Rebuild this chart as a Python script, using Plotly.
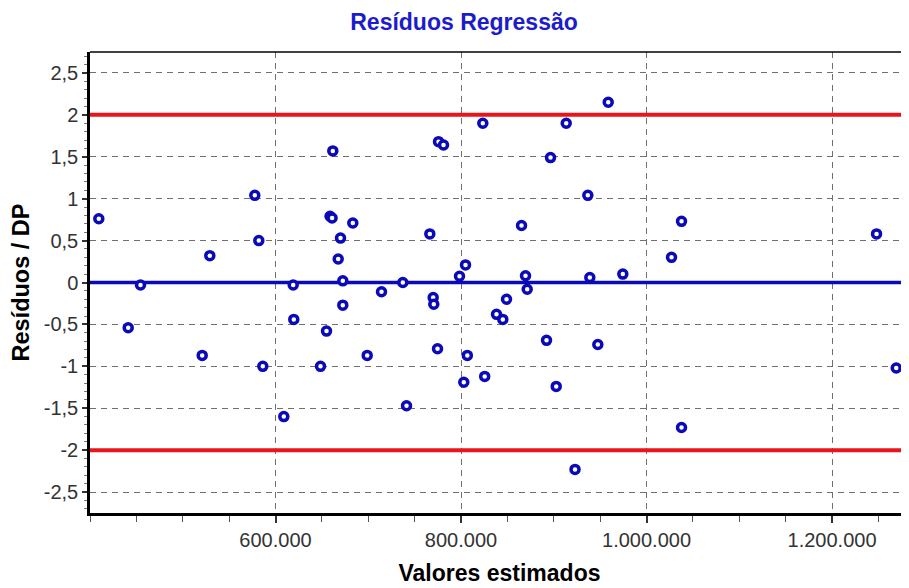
import plotly.graph_objects as go

# Valores estimados (x) and Resíduos / DP (y)
valores_estimados = [
    409500, 441200, 454450, 520970, 529160, 577680, 582000, 586300, 608950, 619080,
    619730, 648520, 654990, 658800, 661000, 661780, 667600, 670080, 672560, 672560,
    683340, 698870, 714290, 737260, 741250, 766370, 770000, 770660, 774680, 775750,
    781150, 798390, 804860, 803000, 806800, 823510, 825550, 838280, 845070, 849060,
    865240, 869550, 871380, 892190, 896500, 902650, 913430, 922920, 936720, 938880,
    947510, 958720, 974460, 1026960, 1037740, 1037740, 1248000, 1269240,
]
residuos_dp = [
    0.76, -0.54, -0.03, -0.87, 0.32, 1.04, 0.50, -1.00, -1.60, -0.03,
    -0.44, -1.00, -0.58, 0.79, 0.77, 1.57, 0.28, 0.53, 0.02, -0.27,
    0.71, -0.87, -0.11, 0.00, -1.47, 0.58, -0.18, -0.26, -0.79, 1.68,
    1.64, 0.075, 0.21, -1.19, -0.87, 1.90, -1.12, -0.38, -0.44, -0.20,
    0.68, 0.08, -0.08, -0.69, 1.49, -1.24, 1.90, -2.23, 1.04, 0.06,
    -0.74, 2.15, 0.10, 0.30, 0.73, -1.73, 0.58, -1.02,
]

limites = [2, -2]
linha_zero = 0

x_range = [400000, 1283000]
y_range = [-2.75, 2.75]

y_tickvals = [2.5, 2, 1.5, 1, 0.5, 0, -0.5, -1, -1.5, -2, -2.5]
y_ticktext = ["2,5", "2", "1,5", "1", "0,5", "0", "-0,5", "-1", "-1,5", "-2", "-2,5"]
x_tickvals = [600000, 800000, 1000000, 1200000]
x_ticktext = ["600.000", "800.000", "1.000.000", "1.200.000"]

BLUE = "#0a0ab8"
RED = "#e8161b"
FONT = "Liberation Sans"

fig = go.Figure()

# reference lines (drawn as traces so they sit above the grid, below markers)
for v in limites:
    fig.add_trace(go.Scatter(x=x_range, y=[v, v], mode="lines",
                             line=dict(color=RED, width=4),
                             showlegend=False, hoverinfo="skip"))
fig.add_trace(go.Scatter(x=x_range, y=[linha_zero, linha_zero], mode="lines",
                         line=dict(color=BLUE, width=3.5),
                         showlegend=False, hoverinfo="skip"))

fig.add_trace(go.Scatter(
    x=valores_estimados, y=residuos_dp, mode="markers",
    marker=dict(symbol="circle", size=8, color="white",
                line=dict(color=BLUE, width=3.5)),
    showlegend=False, cliponaxis=False,
))

# top border
fig.add_shape(type="line", xref="paper", x0=0, x1=1, yref="paper", y0=1, y1=1,
              line=dict(color="black", width=1.5), layer="above")

W, H = 901, 580  # page body has an 8px margin
fig.update_layout(
    width=W, height=H,
    margin=dict(l=82, r=0, t=44, b=75, autoexpand=False),
    paper_bgcolor="white", plot_bgcolor="white",
    font=dict(family=FONT, color="#333333"),
    title=dict(text="<b>Resíduos Regressão</b>", x=456/W, xanchor="center",
               y=1 - 14/H, yanchor="middle", xref="container", yref="container",
               font=dict(family=FONT, size=23, color="#1c1ccc")),
    xaxis=dict(
        range=x_range,
        tickvals=x_tickvals, ticktext=x_ticktext,
        showline=True, linecolor="black", linewidth=3,
        ticks="outside", ticklen=7, tickwidth=1.5, tickcolor="#333333",
        minor=dict(ticks="outside", ticklen=6, dtick=50000, tick0=0,
                   tickwidth=1, tickcolor="#555555", showgrid=False),
        showgrid=True, gridcolor="#707070", gridwidth=1, griddash="6px,5px",
        zeroline=False, automargin=False,
        tickfont=dict(family=FONT, size=20, color="#333333"),
        title=dict(text="<b>Valores estimados</b>", standoff=15,
                   font=dict(family=FONT, size=23, color="black")),
    ),
    yaxis=dict(
        range=y_range,
        tickvals=y_tickvals, ticktext=y_ticktext,
        showline=True, linecolor="black", linewidth=2.5,
        ticks="outside", ticklen=5, tickwidth=1.5, tickcolor="#333333",
        minor=dict(ticks="outside", ticklen=3, dtick=0.1, tickwidth=1,
                   tickcolor="#777777", showgrid=False),
        showgrid=True, gridcolor="#707070", gridwidth=1, griddash="6px,5px",
        zeroline=False, automargin=False,
        tickfont=dict(family=FONT, size=20, color="#333333"),
        title=dict(text="<b>Resíduos / DP</b>", standoff=9,
                   font=dict(family=FONT, size=23.5, color="black")),
    ),
)

fig.write_html("out.html")
